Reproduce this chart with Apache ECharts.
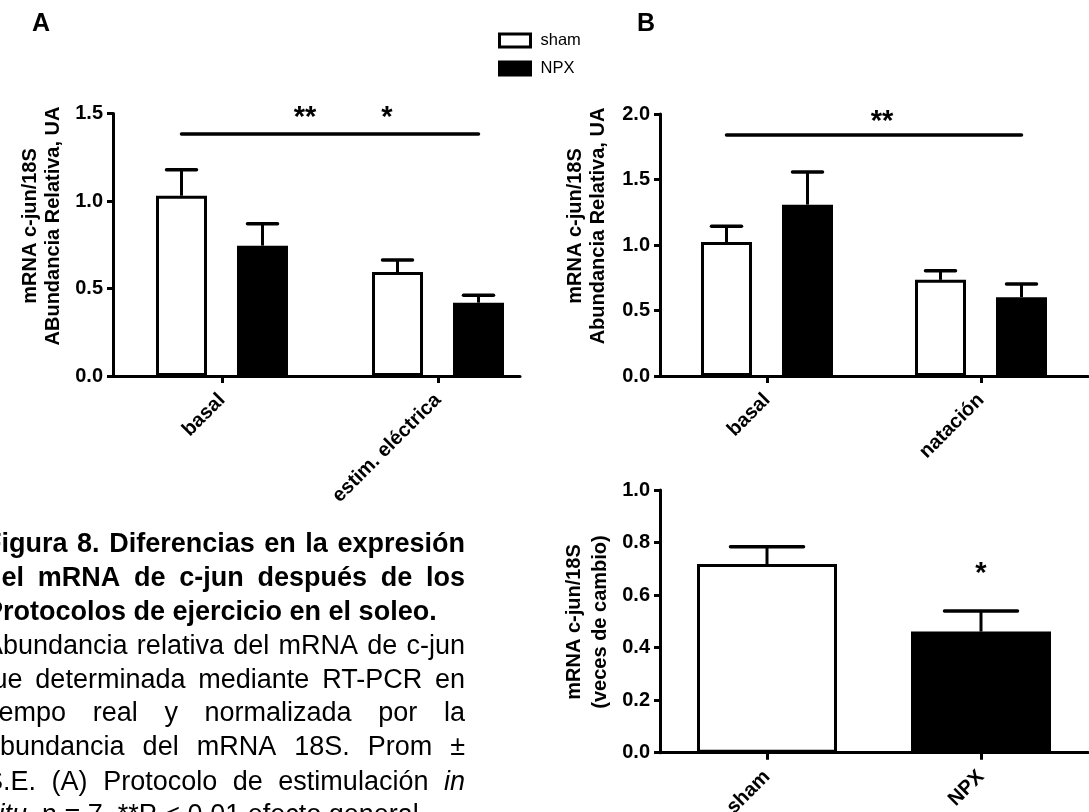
<!DOCTYPE html>
<html>
<head>
<meta charset="utf-8">
<script src="https://cdn.jsdelivr.net/npm/echarts@6/dist/echarts.min.js"></script>
<style>
html,body{margin:0;padding:0;background:#fff;}
#c{width:1089px;height:812px;}
</style>
</head>
<body>
<div id="c"></div>
<script>
// ---------------- DATA ----------------
const seriesNames = ['sham', 'NPX'];

// Panel A
const catsA = ['basal', 'estim. eléctrica'];
const shamMeanA = [1.03, 0.594];
const shamSemA = [0.148, 0.069];
const npxMeanA = [0.745, 0.419];
const npxSemA = [0.125, 0.042];
const sigLineA = 1.383;
const yTicksA = [0, 0.5, 1.0, 1.5];

// Panel B
const catsB = ['basal', 'natación'];
const shamMeanB = [1.023, 0.734];
const shamSemB = [0.12, 0.07];
const npxMeanB = [1.308, 0.602];
const npxSemB = [0.25, 0.10];
const sigLineB = 1.84;
const yTicksB = [0, 0.5, 1.0, 1.5, 2.0];

// Panel C (bottom right)
const catsC = ['sham', 'NPX'];
const meanC = [0.718, 0.461];
const semC = [0.066, 0.078];
const yTicksC = [0, 0.2, 0.4, 0.6, 0.8, 1.0];

// ---------------- STYLE ----------------
const FF = '"Liberation Sans", Arial, Helvetica, sans-serif';
const BW = 51;          // inner bar width (border adds 3)
const OFF = 40.5;       // half distance between paired bar centers
const CAP = 30;         // error cap width (A, B)
const CAPC = 73;        // error cap width (C)
const LBL = {color: '#000', fontFamily: FF, fontWeight: 'bold', fontSize: 20};

const chart = echarts.init(document.getElementById('c'), null, {renderer: 'canvas'});

function yAxisCfg(gi, ticks) {
  const step = ticks[1] - ticks[0];
  return {
    type: 'value', gridIndex: gi, min: ticks[0], max: ticks[ticks.length - 1], interval: step,
    axisLine: {show: true, onZero: false, lineStyle: {color: '#000', width: 3}},
    axisTick: {show: true, length: 6, lineStyle: {color: '#000', width: 3}},
    splitLine: {show: false},
    axisLabel: Object.assign({}, LBL, {margin: 10, formatter: v => v.toFixed(1)})
  };
}
function xAxisCfg(gi, cats) {
  return {
    type: 'category', gridIndex: gi, data: cats, boundaryGap: true,
    axisLine: {show: true, onZero: false, lineStyle: {color: '#000', width: 3}},
    axisTick: {show: true, alignWithLabel: true, length: 7, lineStyle: {color: '#000', width: 3}},
    axisLabel: Object.assign({}, LBL, {rotate: 45, interval: 0, margin: 21})
  };
}
// Panel A uses a value base axis so that its line ends short of the band edge, as in the figure
function xAxisValueCfg(gi, cats) {
  const idx = cats.map((c, i) => i);
  return {
    type: 'value', gridIndex: gi, min: -0.5046, max: 1.3796,
    axisLine: {show: true, onZero: false, lineStyle: {color: '#000', width: 3}},
    splitLine: {show: false},
    axisTick: {show: true, customValues: idx, length: 7, lineStyle: {color: '#000', width: 3}},
    axisLabel: Object.assign({}, LBL, {rotate: 45, margin: 21, customValues: idx,
      formatter: v => cats[Math.round(v)]})
  };
}
function barSeries(name, gi, data, fill, valueBase) {
  return {
    type: 'bar', name: name, xAxisIndex: gi, yAxisIndex: gi,
    data: valueBase ? data.map((v, i) => [i, v]) : data,
    barWidth: BW, barGap: '58.8%',
    itemStyle: {color: fill, borderColor: '#000', borderWidth: 3},
    emphasis: {disabled: true}, z: 2
  };
}
function errRender(offset, capW) {
  return function (params, api) {
    const c = api.value(0), m = api.value(1), s = api.value(2);
    const p0 = api.coord([c, m]);
    const p1 = api.coord([c, m + s]);
    const x = p0[0] + offset;
    return {
      type: 'group',
      children: [
        {type: 'line', shape: {x1: x, y1: p0[1], x2: x, y2: p1[1]},
          style: {stroke: '#000', lineWidth: 3}},
        {type: 'line', shape: {x1: x - capW / 2, y1: p1[1], x2: x + capW / 2, y2: p1[1]},
          style: {stroke: '#000', lineWidth: 3.5, lineCap: 'round'}}
      ]
    };
  };
}
function errSeries(gi, means, sems, offset, capW) {
  return {
    type: 'custom', xAxisIndex: gi, yAxisIndex: gi, z: 3, silent: true,
    data: means.map((m, i) => [i, m, sems[i]]),
    encode: {x: 0, y: 1},
    renderItem: errRender(offset, capW)
  };
}
function sigSeries(gi, level, lastIdx) {
  return {
    type: 'custom', xAxisIndex: gi, yAxisIndex: gi, z: 3, silent: true,
    data: [[0, level, lastIdx]],
    encode: {x: 0, y: 1},
    renderItem: function (params, api) {
      const v = api.value(1);
      const a = api.coord([0, v]);
      const b = api.coord([api.value(2), v]);
      return {type: 'line', shape: {x1: a[0] - OFF, y1: a[1], x2: b[0] + OFF, y2: b[1]},
        style: {stroke: '#000', lineWidth: 3.5, lineCap: 'round'}};
    }
  };
}

// ---------------- CAPTION (justified text, left part cut off) ----------------
const ctx = document.createElement('canvas').getContext('2d');
function measure(t, bold, italic, size) {
  ctx.font = (italic ? 'italic ' : 'normal ') + (bold ? 'bold ' : 'normal ') + size + 'px ' + FF;
  return ctx.measureText(t).width;
}
const captionLines = [
  {t: 'Figura 8. Diferencias en la expresión', bold: true, justify: true},
  {t: 'del mRNA de c-jun después de los', bold: true, justify: true},
  {t: 'Protocolos de ejercicio en el soleo.', bold: true, justify: false},
  {t: 'Abundancia relativa del mRNA de c-jun', bold: false, justify: true},
  {t: 'fue determinada mediante RT-PCR en', bold: false, justify: true},
  {t: 'tiempo real y normalizada por la', bold: false, justify: true},
  {t: 'abundancia del mRNA 18S. Prom ±', bold: false, justify: true},
  {t: 'S.E. (A) Protocolo de estimulación _in', bold: false, justify: true},
  {t: '_situ, n = 7. **P < 0.01 efecto general', bold: false, justify: false}
];
const CAP_L = -15, CAP_R = 465, CAP_SIZE = 27;
const CAP_Y = [545, 579, 612.5, 647, 680.5, 714, 748, 782.5, 815.5];
const captionEls = [];
captionLines.forEach((ln, li) => {
  const words = ln.t.split(' ').map(w => ({txt: w.replace(/^_/, ''), it: w.startsWith('_')}));
  const widths = words.map(w => measure(w.txt, ln.bold, w.it, CAP_SIZE));
  const total = widths.reduce((a, b) => a + b, 0);
  const spaceW = measure(' ', ln.bold, false, CAP_SIZE);
  const gap = ln.justify ? (CAP_R - CAP_L - total) / (words.length - 1) : spaceW;
  let x = CAP_L;
  words.forEach((w, wi) => {
    captionEls.push({
      type: 'text', x: x, y: CAP_Y[li], silent: true,
      style: {text: w.txt, fill: '#000', fontFamily: FF, fontSize: CAP_SIZE,
        fontWeight: ln.bold ? 'bold' : 'normal', fontStyle: w.it ? 'italic' : 'normal',
        align: 'left', verticalAlign: 'middle'}
    });
    x += widths[wi] + gap;
  });
});

function txt(t, x, y, size, bold, extra, lh) {
  return Object.assign({
    type: 'text', x: x, y: y, silent: true,
    style: {text: t, fill: '#000', fontFamily: FF, fontSize: size, fontWeight: bold ? 'bold' : 'normal',
      align: 'center', verticalAlign: 'middle', lineHeight: lh || 23}
  }, extra || {});
}

const gridBase = {containLabel: false, outerBoundsMode: 'none'};
const option = {
  backgroundColor: '#fff',
  animation: false,
  textStyle: {fontFamily: FF},
  grid: [
    Object.assign({left: 113, top: 113.5, width: 407, height: 262.5}, gridBase),
    Object.assign({left: 660, top: 114, width: 428, height: 262}, gridBase),
    Object.assign({left: 660, top: 490, width: 428, height: 262.7}, gridBase)
  ],
  legend: {
    data: seriesNames, orient: 'vertical', left: 493, top: 27, padding: 5,
    icon: 'rect', itemWidth: 31, itemHeight: 13, itemGap: 11, selectedMode: false,
    itemStyle: {borderWidth: 3, borderColor: '#000'},
    textStyle: {color: '#000', fontFamily: FF, fontSize: 16.5, padding: [0, 0, 0, 5]}
  },
  xAxis: [xAxisValueCfg(0, catsA), xAxisCfg(1, catsB), xAxisCfg(2, catsC)],
  yAxis: [yAxisCfg(0, yTicksA), yAxisCfg(1, yTicksB), yAxisCfg(2, yTicksC)],
  series: [
    barSeries('sham', 0, shamMeanA, '#fff', true),
    barSeries('NPX', 0, npxMeanA, '#000', true),
    errSeries(0, shamMeanA, shamSemA, -OFF, CAP),
    errSeries(0, npxMeanA, npxSemA, OFF, CAP),
    sigSeries(0, sigLineA, catsA.length - 1),

    barSeries('sham', 1, shamMeanB, '#fff', false),
    barSeries('NPX', 1, npxMeanB, '#000', false),
    errSeries(1, shamMeanB, shamSemB, -OFF, CAP),
    errSeries(1, npxMeanB, npxSemB, OFF, CAP),
    sigSeries(1, sigLineB, catsB.length - 1),

    {
      type: 'bar', name: 'c-jun', xAxisIndex: 2, yAxisIndex: 2, barWidth: 140,
      data: meanC.map((v, i) => ({value: v, itemStyle: {color: i === 0 ? '#fff' : '#000'}})),
      itemStyle: {borderColor: '#000', borderWidth: 3}, emphasis: {disabled: true}, z: 2
    },
    errSeries(2, meanC, semC, 0, CAPC)
  ],
  graphic: {
    elements: [
      txt('A', 41, 24, 25, true),
      txt('B', 646, 24, 25, true),
      txt('mRNA c-jun/18S\nABundancia Relativa, UA', 42, 226, 20, true, {rotation: Math.PI / 2}),
      txt('mRNA c-jun/18S\nAbundancia Relativa, UA', 587, 226, 20, true, {rotation: Math.PI / 2}),
      txt('mRNA c-jun/18S\n(veces de cambio)', 587, 622, 20, true, {rotation: Math.PI / 2}, 26),
      txt('**', 305, 118, 29, true),
      txt('*', 387, 118, 29, true),
      txt('**', 882, 122, 29, true),
      txt('*', 981, 574, 29, true)
    ].concat(captionEls)
  }
};
chart.setOption(option);
</script>
</body>
</html>
